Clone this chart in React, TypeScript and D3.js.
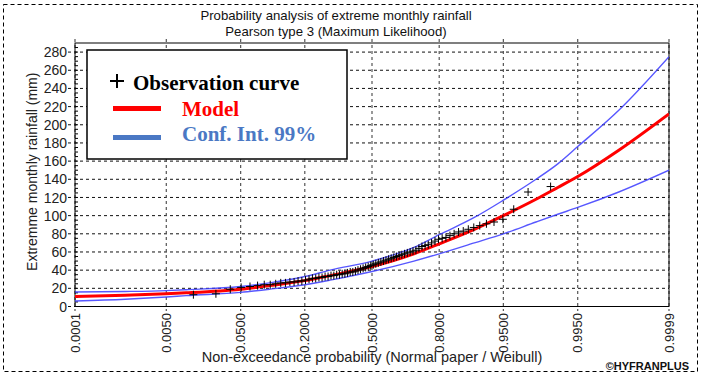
import React from "react";
import * as d3 from "d3";

const titleLines = ["Probability analysis of extreme monthly rainfall", "Pearson type 3 (Maximum Likelihood)"];
const xTickLabels = ["0.0001", "0.0050", "0.0500", "0.2000", "0.5000", "0.8000", "0.9500", "0.9950", "0.9999"];
const yTicks = [0, 20, 40, 60, 80, 100, 120, 140, 160, 180, 200, 220, 240, 260, 280];

// Fitted curve, read at these non-exceedance probabilities
const curveProbs = [0.0001, 0.001, 0.005, 0.01, 0.05, 0.1, 0.2, 0.3, 0.5, 0.7, 0.8, 0.9, 0.95, 0.98, 0.99, 0.995, 0.999, 0.9999];
const modelValues = [11, 12.5, 14, 15, 19, 23, 28.5, 34, 44, 58, 69, 85, 100, 118, 131, 143, 172, 212];
const upperValues = [16, 16.5, 17.5, 18.5, 22, 26, 33, 40, 50, 65, 79, 98, 117, 140, 157, 176, 216, 275];
const lowerValues = [6, 8, 10.5, 12, 15.5, 19, 24, 29, 38.5, 50, 58, 70, 80, 93, 101.5, 109, 126, 150];

// Sorted observations (mm), plotted at Weibull positions i/(n+1)
const observations = [
  13, 14, 19, 21, 22, 23, 24, 24, 25, 26,
  26, 27, 27, 28, 28, 29, 30, 31, 31, 32,
  32, 33, 33, 34, 34, 35, 35, 36, 36, 37,
  38, 38, 39, 40, 41, 42, 43, 44, 45, 46,
  47, 48, 49, 50, 51, 52, 53, 54, 55, 56,
  57, 58, 59, 60, 61, 62, 64,
  66, 67, 68, 70, 72, 74, 75, 76, 78, 80, 82, 83, 85, 87, 89,
  91, 93, 96, 107, 126, 132,
];

const legendItems = ["Observation curve", "Model", "Conf. Int. 99%"];

// inverse standard normal CDF (Acklam)
function normInv(p: number): number {
  const a = [-3.969683028665376e1, 2.209460984245205e2, -2.759285104469687e2, 1.38357751867269e2, -3.066479806614716e1, 2.506628277459239];
  const b = [-5.447609879822406e1, 1.615858368580409e2, -1.556989798598866e2, 6.680131188771972e1, -1.328068155288572e1];
  const c = [-7.784894002430293e-3, -3.223964580411365e-1, -2.400758277161838, -2.549732539343734, 4.374664141464968, 2.938163982698783];
  const d = [7.784695709041462e-3, 3.224671290700398e-1, 2.445134137142996, 3.754408661907416];
  const pl = 0.02425;
  let q, r;
  if (p < pl) {
    q = Math.sqrt(-2 * Math.log(p));
    return (((((c[0] * q + c[1]) * q + c[2]) * q + c[3]) * q + c[4]) * q + c[5]) / ((((d[0] * q + d[1]) * q + d[2]) * q + d[3]) * q + 1);
  } else if (p <= 1 - pl) {
    q = p - 0.5;
    r = q * q;
    return ((((((a[0] * r + a[1]) * r + a[2]) * r + a[3]) * r + a[4]) * r + a[5]) * q) / (((((b[0] * r + b[1]) * r + b[2]) * r + b[3]) * r + b[4]) * r + 1);
  } else {
    q = Math.sqrt(-2 * Math.log(1 - p));
    return -(((((c[0] * q + c[1]) * q + c[2]) * q + c[3]) * q + c[4]) * q + c[5]) / ((((d[0] * q + d[1]) * q + d[2]) * q + d[3]) * q + 1);
  }
}

const W = 701, H = 376;
const L = 75, R = 669, T = 43, B = 306.5;
const SANS = "Arial, 'Liberation Sans', sans-serif";
const SERIF = "'Times New Roman', 'Liberation Serif', serif";

export default function App() {
  const x = d3.scaleLinear().domain([normInv(0.0001), normInv(0.9999)]).range([L, R]);
  const y = d3.scaleLinear().domain([0, 290]).range([B, T]);
  const minor = d3.range(0, 290, 5);

  const line = (vals: number[]) =>
    d3.line<number>()
      .x((_, i) => x(normInv(curveProbs[i])))
      .y((v) => y(v))
      .curve(d3.curveMonotoneX)(vals) || "";

  const n = observations.length;

  return (
    <svg width={W} height={H} style={{ position: "absolute", left: 0, top: 0, background: "#fff" }}>
      <rect x={0} y={0} width={W} height={H} fill="#fff" />
      {/* outer dashed frame */}
      <rect x={3.5} y={4.5} width={694} height={367} fill="none" stroke="#000" strokeDasharray="4,3" />
      {/* titles */}
      {titleLines.map((t, i) => (
        <text key={t} x={336} y={20 + i * 16} textAnchor="middle" fontFamily={SANS} fontSize={13.2} fill="#111">{t}</text>
      ))}
      {/* horizontal grid */}
      {yTicks.map((v) => (
        <line key={"hg" + v} x1={68} x2={R} y1={y(v)} y2={y(v)} stroke="#111" strokeDasharray="3,3" />
      ))}
      {/* vertical grid */}
      {xTickLabels.map((t) => (
        <line key={"vg" + t} x1={x(normInv(+t))} x2={x(normInv(+t))} y1={39} y2={311} stroke="#555" strokeWidth={1.2} strokeDasharray="3,3" />
      ))}
      {/* minor ticks */}
      {minor.map((v) => (
        <line key={"mt" + v} x1={L} x2={L + 3} y1={y(v)} y2={y(v)} stroke="#000" />
      ))}
      {/* plot border */}
      <rect x={L} y={T} width={R - L} height={B - T} fill="none" stroke="#000" />
      {/* y tick labels */}
      {yTicks.map((v) => (
        <text key={"yl" + v} x={67} y={y(v)} dy="0.36em" textAnchor="end" fontFamily={SANS} fontSize={14} fill="#222">{v}</text>
      ))}
      {/* x tick labels */}
      {xTickLabels.map((t) => (
        <text key={"xl" + t} transform={`translate(${x(normInv(+t))},313) rotate(-90)`} dy="0.36em" textAnchor="end" fontFamily={SANS} fontSize={13} fill="#222">{t}</text>
      ))}
      {/* axis titles */}
      <text transform={`translate(37,${(T + B) / 2 - 3}) rotate(-90)`} textAnchor="middle" fontFamily={SANS} fontSize={14} fill="#222">Extremme monthly rainfall (mm)</text>
      <text x={372} y={362} textAnchor="middle" fontFamily={SANS} fontSize={14.5} fill="#222">Non-exceedance probability (Normal paper / Weibull)</text>
      <text x={689} y={370} textAnchor="end" fontFamily={SANS} fontSize={11} fontWeight="bold" fill="#111">©HYFRANPLUS</text>

      {/* curves */}
      <g clipPath="url(#plotclip)">
        <defs>
          <clipPath id="plotclip"><rect x={L} y={T} width={R - L} height={B - T} /></clipPath>
        </defs>
        <path d={line(upperValues)} fill="none" stroke="#3a3aff" strokeWidth={1.4} opacity={0.85} />
        <path d={line(lowerValues)} fill="none" stroke="#3a3aff" strokeWidth={1.4} opacity={0.85} />
        <path d={line(modelValues)} fill="none" stroke="#ff0000" strokeWidth={3} />
        {observations.map((v, i) => {
          const cx = x(normInv((i + 1) / (n + 1)));
          const cy = y(v);
          return (
            <g key={"o" + i} stroke="#000" strokeWidth={1}>
              <line x1={cx - 4} x2={cx + 4} y1={cy} y2={cy} />
              <line x1={cx} x2={cx} y1={cy - 4} y2={cy + 4} />
            </g>
          );
        })}
      </g>

      {/* legend */}
      <rect x={87} y={50} width={260} height={109} fill="#fff" stroke="#000" strokeWidth={1.5} />
      <g stroke="#000" strokeWidth={2}>
        <line x1={110} x2={124} y1={81} y2={81} />
        <line x1={117} x2={117} y1={74} y2={88} />
      </g>
      <text x={133} y={90} fontFamily={SERIF} fontWeight="bold" fontSize={21} fill="#000">{legendItems[0]}</text>
      <line x1={113} x2={161} y1={108.5} y2={108.5} stroke="#ff0000" strokeWidth={5} />
      <text x={182} y={116} fontFamily={SERIF} fontWeight="bold" fontSize={21} fill="#ff0000">{legendItems[1]}</text>
      <line x1={113} x2={161} y1={137.5} y2={137.5} stroke="#4a78c4" strokeWidth={5} />
      <text x={182} y={141} fontFamily={SERIF} fontWeight="bold" fontSize={21} fill="#4a78c4">{legendItems[2]}</text>
    </svg>
  );
}
